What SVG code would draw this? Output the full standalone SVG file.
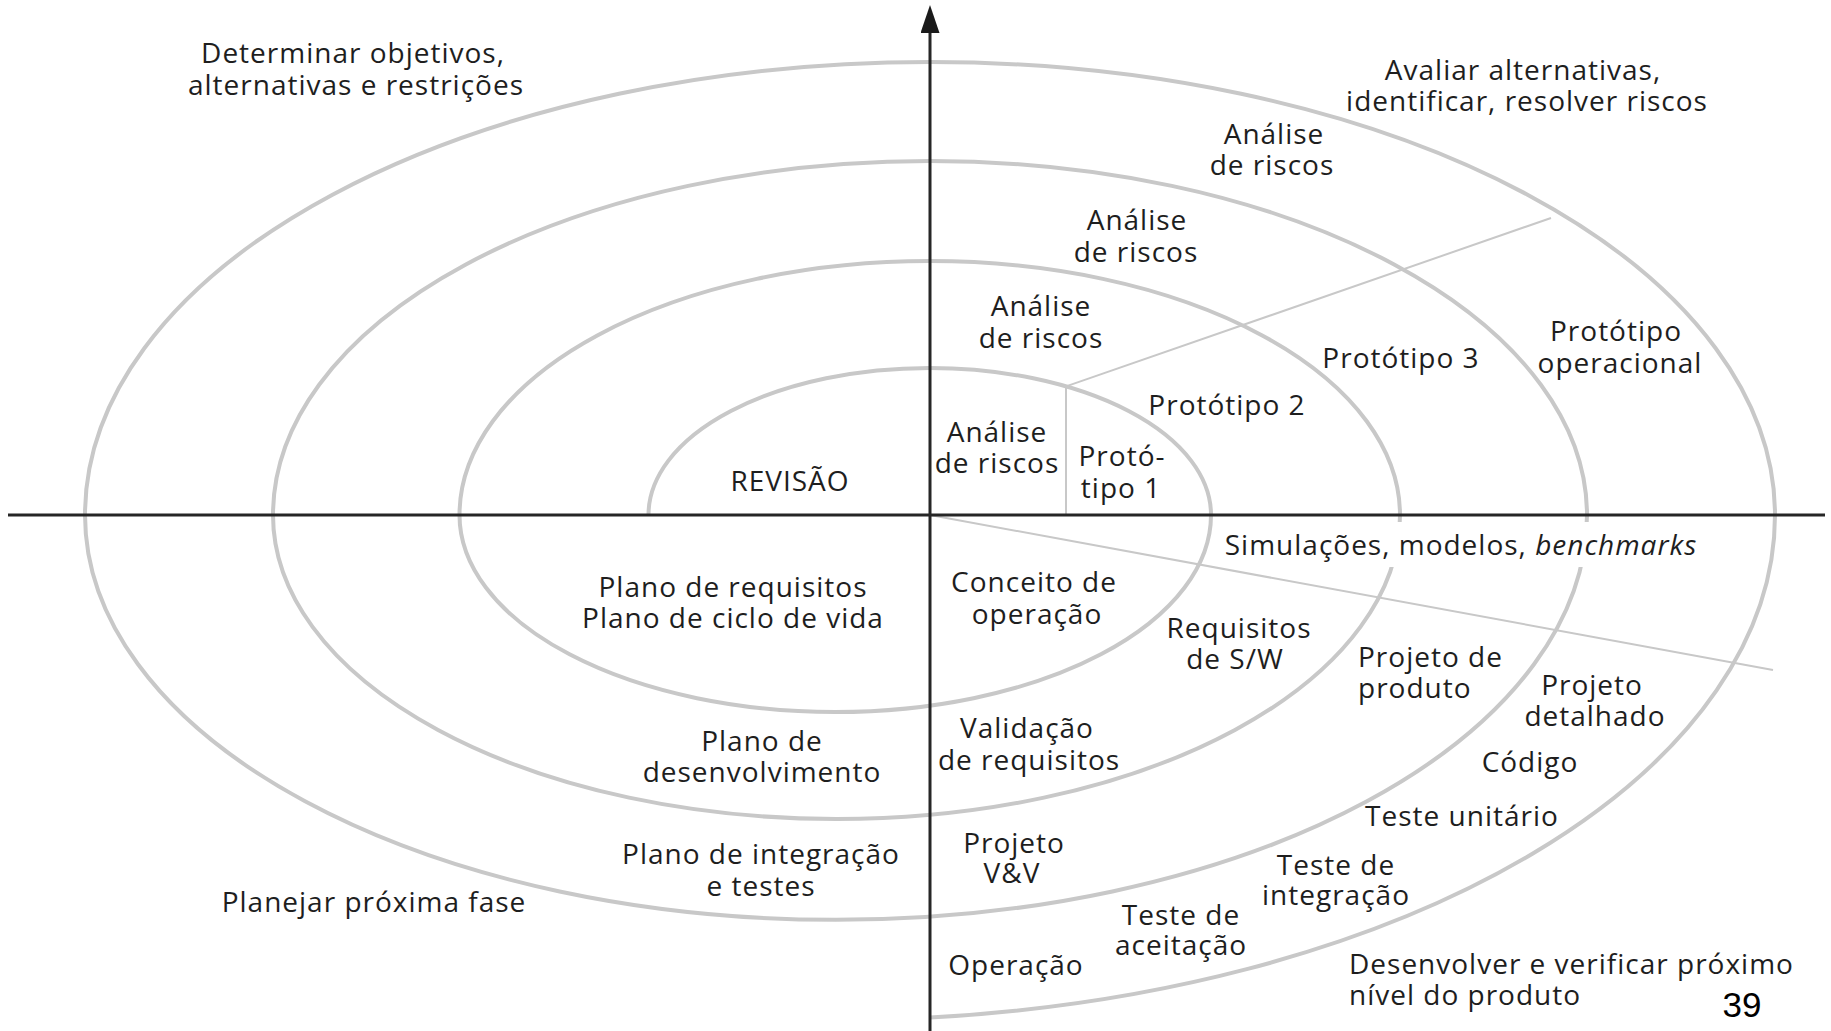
<svg xmlns="http://www.w3.org/2000/svg" width="1831" height="1031" viewBox="0 0 1831 1031">
  <style>
    .lbl { font-family: "Open Sans", "Noto Sans", "Liberation Sans", sans-serif; font-size: 28px; letter-spacing: 1px; fill: #1e1e1e; text-anchor: middle; }
    .left { text-anchor: start; }
    .spiral { fill: none; stroke: #c8c8c8; stroke-width: 4; }
    .ray { fill: none; stroke: #c8c8c8; stroke-width: 2; }
    .axis { fill: none; stroke: #262626; stroke-width: 3; }
  </style>
  <defs>
    <!-- solid triangular head, base placed on the line end -->
    <marker id="arrow" markerUnits="userSpaceOnUse" markerWidth="28" markerHeight="19" refX="0" refY="9.5" orient="auto" viewBox="0 0 28 19">
      <path d="M0 0 L28 9.5 L0 19 Z" fill="#1a1a1a"/>
    </marker>
  </defs>
  <rect width="1831" height="1031" fill="#ffffff"/>

  <!-- spiral: upper half-ellipses centred on the vertical axis, lower ones shifted left -->
  <g id="spiral">
    <path class="spiral" d="M648.5 515 A281.25 147 0 0 1 1211 515 A375.75 197 0 0 1 459.5 515 A470.25 254 0 0 1 1400 515 A563.5 304 0 0 1 273 515 A657 354 0 0 1 1587 515 A751 405 0 0 1 85 515 A845 453 0 0 1 1775 515 A939 505 0 0 1 930 1017.5"/>
  </g>

  <!-- quadrant separators and axes -->
  <g id="connectors">
    <path class="ray" d="M1066 515 L1066 386.4 L1551 218"/>
    <path class="ray" d="M930 515 L1773 670"/>
    <line class="axis" x1="8" y1="515" x2="1825" y2="515"/>
    <line class="axis" x1="930" y1="1031" x2="930" y2="33" marker-end="url(#arrow)"/>
  </g>

  <g id="quadrant-titles">
    <g id="t-determinar">
      <text class="lbl" x="353" y="63">Determinar objetivos,</text>
      <text class="lbl" x="356" y="94.5">alternativas e restrições</text>
    </g>
    <g id="t-avaliar">
      <text class="lbl" x="1523" y="79.5">Avaliar alternativas,</text>
      <text class="lbl" x="1527" y="111">identificar, resolver riscos</text>
    </g>
    <g id="t-planejar">
      <text class="lbl" x="374" y="912">Planejar próxima fase</text>
    </g>
    <g id="t-desenvolver">
      <text class="lbl left" x="1349" y="974">Desenvolver e verificar próximo</text>
      <text class="lbl left" x="1349" y="1005">nível do produto</text>
    </g>
  </g>

  <g id="risk-analysis">
    <g id="ar4">
      <text class="lbl" x="1274" y="143.5">Análise</text>
      <text class="lbl" x="1272" y="175">de riscos</text>
    </g>
    <g id="ar3">
      <text class="lbl" x="1137" y="230">Análise</text>
      <text class="lbl" x="1136" y="261.5">de riscos</text>
    </g>
    <g id="ar2">
      <text class="lbl" x="1041" y="315.5">Análise</text>
      <text class="lbl" x="1041" y="348">de riscos</text>
    </g>
    <g id="ar1">
      <text class="lbl" x="997" y="441.5">Análise</text>
      <text class="lbl" x="997" y="473">de riscos</text>
    </g>
  </g>

  <g id="prototypes">
    <g id="p1">
      <text class="lbl" x="1122" y="466">Protó-</text>
      <text class="lbl" x="1121" y="497.5">tipo 1</text>
    </g>
    <g id="p2"><text class="lbl" x="1227" y="414.5">Protótipo 2</text></g>
    <g id="p3"><text class="lbl" x="1401" y="368">Protótipo 3</text></g>
    <g id="p-op">
      <text class="lbl" x="1616" y="341">Protótipo</text>
      <text class="lbl" x="1620" y="372.5">operacional</text>
    </g>
  </g>

  <g id="revisao"><text class="lbl" x="790" y="490.5">REVISÃO</text></g>

  <g id="simulacoes">
    <rect x="1222" y="522" width="480" height="45" fill="#ffffff"/>
    <text class="lbl" x="1461" y="554.5">Simulações, modelos, <tspan font-style="italic">benchmarks</tspan></text>
  </g>

  <g id="plans">
    <g id="plano-req">
      <text class="lbl" x="733" y="597">Plano de requisitos</text>
      <text class="lbl" x="733" y="628">Plano de ciclo de vida</text>
    </g>
    <g id="plano-des">
      <text class="lbl" x="762" y="751">Plano de</text>
      <text class="lbl" x="762" y="782">desenvolvimento</text>
    </g>
    <g id="plano-int">
      <text class="lbl" x="761" y="864">Plano de integração</text>
      <text class="lbl" x="761" y="895.5">e testes</text>
    </g>
  </g>

  <g id="development">
    <g id="conceito">
      <text class="lbl" x="1034" y="592">Conceito de</text>
      <text class="lbl" x="1037" y="623.5">operação</text>
    </g>
    <g id="requisitos">
      <text class="lbl" x="1239" y="637.5">Requisitos</text>
      <text class="lbl" x="1235" y="669">de S/W</text>
    </g>
    <g id="projeto-produto">
      <text class="lbl left" x="1358" y="666.5">Projeto de</text>
      <text class="lbl left" x="1358" y="698">produto</text>
    </g>
    <g id="projeto-detalhado">
      <text class="lbl" x="1592" y="694.5">Projeto</text>
      <text class="lbl" x="1595" y="726">detalhado</text>
    </g>
    <g id="codigo"><text class="lbl" x="1530" y="772">Código</text></g>
    <g id="teste-unitario"><text class="lbl" x="1462" y="825.5">Teste unitário</text></g>
    <g id="teste-integracao">
      <text class="lbl" x="1336" y="874.5">Teste de</text>
      <text class="lbl" x="1336" y="905">integração</text>
    </g>
    <g id="teste-aceitacao">
      <text class="lbl" x="1181" y="925">Teste de</text>
      <text class="lbl" x="1181" y="955">aceitação</text>
    </g>
    <g id="validacao">
      <text class="lbl" x="1027" y="738">Validação</text>
      <text class="lbl" x="1029" y="769.5">de requisitos</text>
    </g>
    <g id="projeto-vv">
      <text class="lbl" x="1014" y="852.5">Projeto</text>
      <text class="lbl" x="1012" y="883">V&amp;V</text>
    </g>
    <g id="operacao"><text class="lbl" x="1016" y="975">Operação</text></g>
  </g>

  <g id="page-number">
    <text x="1742" y="1017" font-family="'Liberation Sans', Arial, sans-serif" font-size="35" fill="#000000" text-anchor="middle">39</text>
  </g>
</svg>
